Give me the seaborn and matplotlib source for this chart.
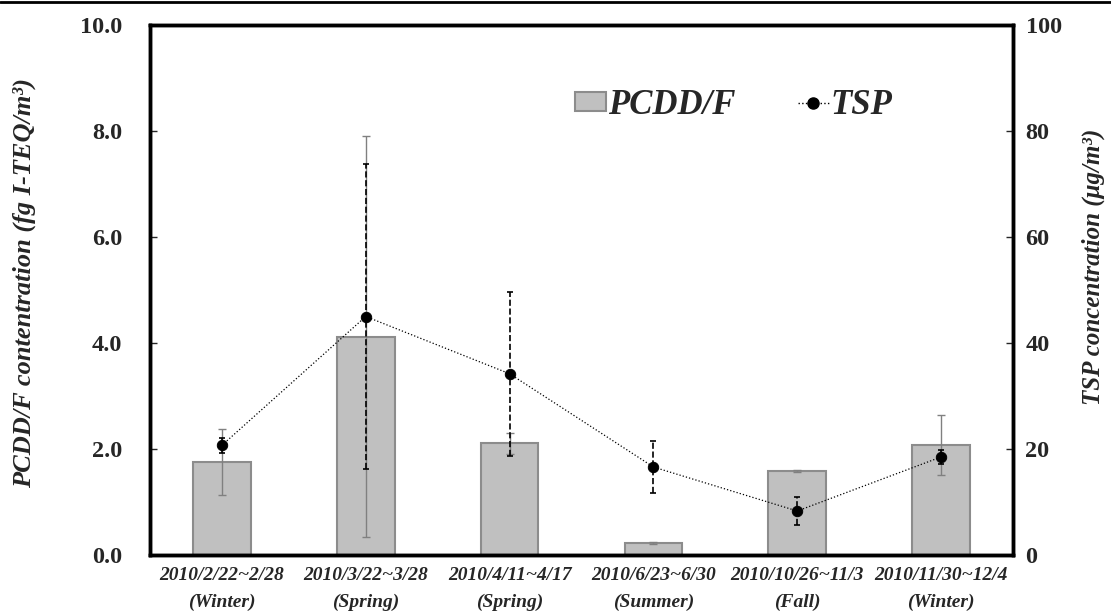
import numpy as np
import pandas as pd
import matplotlib
matplotlib.use('Agg')
import matplotlib.pyplot as plt
import seaborn as sns
from matplotlib.patches import Patch
from matplotlib.lines import Line2D

sns.set_style('white')
plt.rcParams['font.family'] = ['Liberation Serif', 'DejaVu Serif']
plt.rcParams['font.weight'] = 'bold'

periods = ['2010/2/22~2/28', '2010/3/22~3/28', '2010/4/11~4/17',
           '2010/6/23~6/30', '2010/10/26~11/3', '2010/11/30~12/4']
seasons = ['Winter', 'Spring', 'Spring', 'Summer', 'Fall', 'Winter']
pcdd = [1.75, 4.12, 2.11, 0.22, 1.58, 2.08]
pcdd_sd = [0.62, 3.78, 0.20, 0.02, 0.02, 0.57]
tsp = [20.7, 45.0, 34.2, 16.6, 8.3, 18.5]
tsp_sd = [1.4, 28.8, 15.5, 4.9, 2.6, 1.3]

labels = [p + '\n(' + s + ')' for p, s in zip(periods, seasons)]
df = pd.DataFrame({'period': labels, 'pcdd': pcdd, 'tsp': tsp})

fig = plt.figure(figsize=(11.11, 6.13), dpi=100)
ax = fig.add_axes([150 / 1111, 1 - 555 / 613, 863 / 1111, 530 / 613])

sns.barplot(data=df, x='period', y='pcdd', ax=ax, color='#C0C0C0',
            saturation=1, width=0.4, edgecolor='#8C8C8C', linewidth=1.5,
            errorbar=None, zorder=2)
xs = np.arange(len(labels))
ax.errorbar(xs, pcdd, yerr=pcdd_sd, fmt='none', ecolor='#808080',
            elinewidth=1.0, capsize=3, capthick=1.0, zorder=3)

ax2 = ax.twinx()
sns.pointplot(data=df, x='period', y='tsp', ax=ax2, color='black',
              linestyles=':', markers='o', errorbar=None,
              markersize=7.5, linewidth=0.9)
eb = ax2.errorbar(xs, tsp, yerr=tsp_sd, fmt='none', ecolor='black',
                  elinewidth=1.2, capsize=2, capthick=1.2)
eb[2][0].set_linestyle('--')

ax.set_xlim(-0.5, 5.5)
ax.set_ylim(0, 10)
ax2.set_ylim(0, 100)
ax.set_yticks(np.arange(0, 10.1, 2))
ax.set_yticklabels(['%.1f' % v for v in np.arange(0, 10.1, 2)])
ax2.set_yticks(np.arange(0, 101, 20))

ax.set_xticks(xs)
ax.set_xticklabels(labels, fontsize=14, fontweight='bold', style='italic',
                   linespacing=1.7)
ax.set_xticks(np.arange(0.5, 5.5, 1), minor=True)
ax.tick_params(axis='x', which='major', length=0, pad=9)
ax.tick_params(axis='x', which='minor', direction='in', length=5, width=1)
ax.tick_params(axis='y', direction='in', length=5, width=1, labelsize=17.5, pad=20)
ax2.tick_params(axis='y', direction='in', length=5, width=1, labelsize=17.5, pad=9)
for t in ax.get_yticklabels() + ax2.get_yticklabels():
    t.set_fontweight('bold')

ax.set_xlabel('')
ax.set_ylabel('PCDD/F contentration (fg I-TEQ/m³)', fontsize=19,
              fontweight='bold', style='italic')
ax2.set_ylabel('TSP concentration (μg/m³)', fontsize=18,
               fontweight='bold', style='italic')
ax.yaxis.set_label_coords(-0.132, 0.513)
ax2.yaxis.set_label_coords(1.08, 0.543)

for a in (ax, ax2):
    for sp in a.spines.values():
        sp.set_linewidth(2.5)
        sp.set_color('black')
ax.grid(False)
ax2.grid(False)

handles = [Patch(facecolor='#C0C0C0', edgecolor='#8C8C8C', linewidth=1.5),
           Line2D([], [], color='black', linestyle=':', marker='o',
                  markersize=8, linewidth=1)]
fig.legend(handles, ['PCDD/F', 'TSP'], ncol=2, frameon=False,
           loc='center left', bbox_to_anchor=(575 / 1111, 1 - 105 / 613),
           prop={'family': 'Liberation Serif', 'weight': 'bold',
                 'style': 'italic', 'size': 25},
           handlelength=0.9, handleheight=0.46, handletextpad=0.05,
           columnspacing=1.8, borderpad=0, borderaxespad=0)

fig.add_artist(Line2D([0, 1], [1 - 1.5 / 613, 1 - 1.5 / 613],
                      transform=fig.transFigure, color='black', linewidth=2))

fig.savefig('out.png', dpi=100)
